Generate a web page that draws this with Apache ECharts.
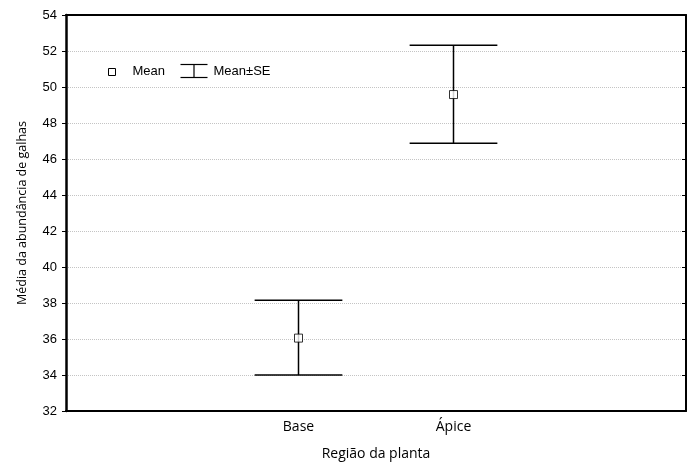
<!DOCTYPE html>
<html>
<head>
<meta charset="utf-8">
<script src="https://cdn.jsdelivr.net/npm/echarts@6/dist/echarts.min.js"></script>
<style>
  html, body { margin: 0; padding: 0; background: #fff; }
  #chart { width: 697px; height: 462px; }
</style>
</head>
<body>
<div id="chart"></div>
<script>
// categorias do eixo x (posicoes vazias nas pontas, como no original)
var categories = ['', 'Base', 'Ápice', ''];
// media e limites media±EP
var means = [null, 36.05, 49.58, null];
var lower = [null, 34.0, 46.88, null];
var upper = [null, 38.15, 52.32, null];
var yTicks = { min: 32, max: 54, interval: 2 };

var chart = echarts.init(document.getElementById('chart'));

var meanData = [];
var barData = [];
for (var i = 0; i < categories.length; i++) {
    if (means[i] == null) continue;
    meanData.push([i, means[i]]);
    barData.push([i, lower[i], upper[i]]);
}

var axisFont = 'Liberation Sans, Arial, sans-serif';
var labelFont = 'Open Sans, sans-serif';

var option = {
    animation: false,
    grid: { left: 66, right: 11, top: 15, bottom: 51, containLabel: false, outerBoundsMode: 'none' },
    xAxis: [{
        type: 'category',
        data: categories,
        boundaryGap: true,
        name: 'Região da planta',
        nameLocation: 'middle',
        nameGap: 36,
        nameTextStyle: { color: '#000', fontSize: 14, fontFamily: labelFont },
        axisLine: { lineStyle: { color: '#000', width: 2 } },
        axisTick: { alignWithLabel: true, inside: true, length: 4, interval: 0, lineStyle: { color: '#000' } },
        axisLabel: { color: '#000', fontSize: 14, fontFamily: labelFont, margin: 9, interval: 0 },
        splitLine: { show: false }
    }, {
        type: 'category',
        data: categories,
        position: 'top',
        boundaryGap: true,
        axisLine: { lineStyle: { color: '#000', width: 2 } },
        axisTick: { alignWithLabel: true, inside: true, length: 4, interval: 0, lineStyle: { color: '#000' } },
        axisLabel: { show: false },
        splitLine: { show: false }
    }],
    yAxis: [{
        type: 'value',
        min: yTicks.min,
        max: yTicks.max,
        interval: yTicks.interval,
        name: 'Média da abundância de galhas',
        nameLocation: 'middle',
        nameGap: 37,
        nameTextStyle: { color: '#000', fontSize: 12.5, fontFamily: labelFont },
        axisLine: { show: true, lineStyle: { color: '#000', width: 2.5 } },
        axisTick: { show: true, length: 4, lineStyle: { color: '#000' } },
        axisLabel: { color: '#000', fontSize: 13, fontFamily: axisFont, margin: 9 },
        splitLine: { show: true, lineStyle: { color: '#c4c4c4', type: 'dotted', width: 1 } }
    }, {
        type: 'value',
        position: 'right',
        min: yTicks.min,
        max: yTicks.max,
        interval: yTicks.interval,
        axisLine: { show: true, lineStyle: { color: '#000', width: 2 } },
        axisTick: { show: true, inside: true, length: 4, lineStyle: { color: '#000' } },
        axisLabel: { show: false },
        splitLine: { show: false }
    }],
    series: [{
        name: 'Mean±SE',
        type: 'custom',
        z: 2,
        data: barData,
        renderItem: function (params, api) {
            var x = api.value(0);
            var lo = api.coord([x, api.value(1)]);
            var hi = api.coord([x, api.value(2)]);
            var half = api.size([1, 0])[0] * 0.283;
            var style = { stroke: '#000', lineWidth: 1.5 };
            return {
                type: 'group',
                children: [
                    { type: 'line', shape: { x1: lo[0], y1: lo[1], x2: hi[0], y2: hi[1] }, style: style },
                    { type: 'line', shape: { x1: lo[0] - half, y1: lo[1], x2: lo[0] + half, y2: lo[1] }, style: style },
                    { type: 'line', shape: { x1: hi[0] - half, y1: hi[1], x2: hi[0] + half, y2: hi[1] }, style: style }
                ]
            };
        }
    }, {
        name: 'Mean',
        type: 'scatter',
        z: 3,
        symbol: 'rect',
        symbolSize: 8,
        data: meanData,
        itemStyle: { color: '#fff', borderColor: '#000', borderWidth: 1 }
    }],
    // legenda desenhada a mao
    graphic: [{
        type: 'group',
        left: 108,
        top: 62,
        children: [
            { type: 'rect', shape: { x: 0, y: 5, width: 7, height: 7 }, style: { fill: '#fff', stroke: '#000', lineWidth: 1 } },
            { type: 'text', x: 24, y: 1, style: { text: 'Mean', fontSize: 13, fontFamily: axisFont, fill: '#000' } },
            { type: 'line', shape: { x1: 72, y1: 1, x2: 99, y2: 1 }, style: { stroke: '#000', lineWidth: 1.2 } },
            { type: 'line', shape: { x1: 85.5, y1: 1, x2: 85.5, y2: 14 }, style: { stroke: '#000', lineWidth: 1.2 } },
            { type: 'line', shape: { x1: 72, y1: 14, x2: 99, y2: 14 }, style: { stroke: '#000', lineWidth: 1.2 } },
            { type: 'text', x: 105, y: 1, style: { text: 'Mean±SE', fontSize: 13, fontFamily: axisFont, fill: '#000' } }
        ]
    }]
};

chart.setOption(option);
</script>
</body>
</html>
